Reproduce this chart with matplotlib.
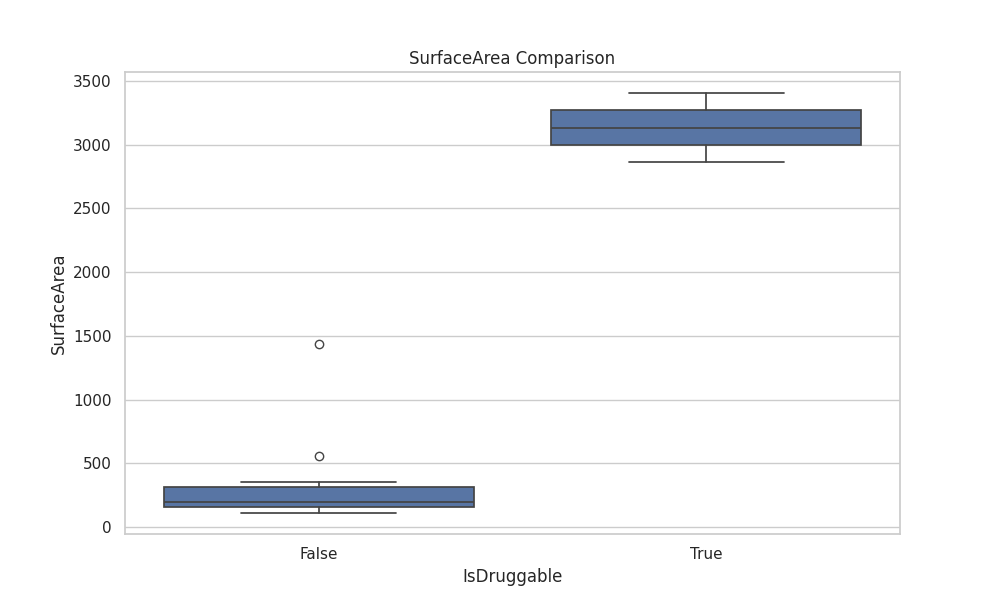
import matplotlib
matplotlib.use("Agg")
import matplotlib.pyplot as plt
import seaborn as sns

categories = ["False", "True"]
whislo = [110, 2867]
q1 = [155, 2998]
med = [199, 3132]
q3 = [312, 3273]
whishi = [351, 3407]
fliers = [[558, 1437], []]

sns.set_theme(style="whitegrid")
fig, ax = plt.subplots(figsize=(10, 6), dpi=100)

stats = []
for i, c in enumerate(categories):
    stats.append(dict(label=c, whislo=whislo[i], q1=q1[i], med=med[i],
                      q3=q3[i], whishi=whishi[i], fliers=fliers[i]))

lc = "#444444"
ax.bxp(stats, positions=range(len(categories)), widths=0.8, patch_artist=True,
       capwidths=0.4,
       boxprops=dict(facecolor="#5875a4", edgecolor=lc, linewidth=1.25),
       medianprops=dict(color=lc, linewidth=1.25),
       whiskerprops=dict(color=lc, linewidth=1.25),
       capprops=dict(color=lc, linewidth=1.25),
       flierprops=dict(marker="o", markerfacecolor="none", markeredgecolor=lc,
                       markersize=6, linewidth=0))
ax.set_xlim(-0.5, 1.5)
ax.set_ylim(-55, 3571)
ax.set_xticks(range(len(categories)))
ax.set_xticklabels(categories)
ax.xaxis.grid(False)
ax.set_xlabel("IsDruggable")
ax.set_ylabel("SurfaceArea")
ax.set_title("SurfaceArea Comparison")
fig.savefig("out.png", dpi=100)
